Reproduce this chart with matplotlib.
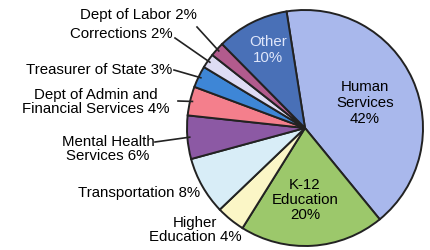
import numpy as np
import matplotlib.pyplot as plt

plt.rcParams['font.family'] = ['Liberation Sans', 'DejaVu Sans']

# slices, clockwise from the top
names = ['Human Services', 'K-12 Education', 'Higher Education', 'Transportation',
         'Mental Health Services', 'Dept of Admin and Financial Services',
         'Treasurer of State', 'Corrections', 'Dept of Labor', 'Other']
shares = [42, 20, 4, 8, 6, 4, 3, 2, 2, 10]
colors = ['#a9b8ec', '#9cc86b', '#fbf6c6', '#d8edf7', '#8c59a4',
          '#f47f8c', '#3e86d6', '#dedcf4', '#b25b8d', '#4970b7']

# figure is 430x250 px, pie centre at (305,128) px, radius 118 px
W, H, CX, CY, R = 430, 250, 305, 128, 118


def px(x, y):
    return (x - CX) / R, (CY - y) / R


fig = plt.figure(figsize=(4.3, 2.5), dpi=100)
ax = fig.add_axes([0, 0, 1, 1])
wedges, _ = ax.pie(shares, colors=colors, startangle=99, counterclock=False,
                   wedgeprops=dict(edgecolor='#222222', linewidth=1.4))
ax.set_xlim(-CX / R, (W - CX) / R)
ax.set_ylim(-(H - CY) / R, CY / R)
ax.set_aspect('equal')
ax.axis('off')

fs = 10.8

# inside labels
ax.text(*px(365, 103), 'Human\nServices\n42%', ha='center', va='center', fontsize=fs, linespacing=1.15)
ax.text(*px(305, 200), 'K-12\nEducation\n20%', ha='center', va='center', fontsize=fs, linespacing=1.1)
ax.text(*px(268, 50), 'Other\n10%', ha='center', va='center', fontsize=fs, linespacing=1.1, color='#dfe6fa')

# outside labels: (text, text anchor px, ha, line start px or None)
outside = [
    ('Dept of Labor 2%', (197, 15), 'right', (197, 27)),
    ('Corrections 2%', (173, 34), 'right', (175, 38)),
    ('Treasurer of State 3%', (172, 70), 'right', (174, 70)),
    ('Dept of Admin and\nFinancial Services 4%', (96, 102), 'center', (178, 101)),
    ('Mental Health\nServices 6%', (108, 149), 'center', (155, 142)),
    ('Transportation 8%', (200, 193), 'right', None),
    ('Higher\nEducation 4%', (195, 230), 'center', None),
]
label_idx = [8, 7, 6, 5, 4, 3, 2]

for (txt, pos, ha, start), i in zip(outside, label_idx):
    ax.text(*px(*pos), txt, ha=ha, va='center', fontsize=fs, linespacing=1.0)
    if start is not None:
        w = wedges[i]
        mid = np.deg2rad((w.theta1 + w.theta2) / 2)
        x0, y0 = px(*start)
        ax.plot([x0, 0.98 * np.cos(mid)], [y0, 0.98 * np.sin(mid)],
                color='#222222', linewidth=1.2, zorder=5)

fig.savefig('out.png', dpi=100)
